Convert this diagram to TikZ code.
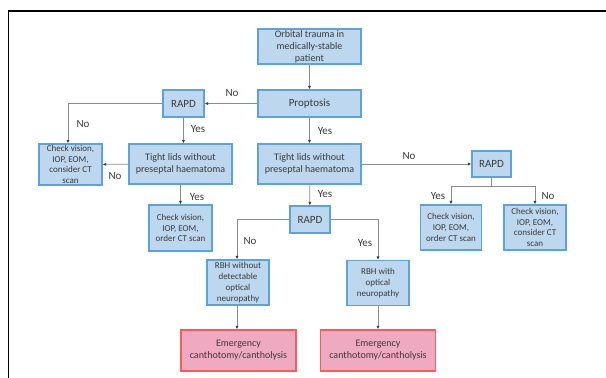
\documentclass[tikz,border=0pt]{standalone}
\usepackage{fontspec}
\setmainfont{Carlito}
\usetikzlibrary{arrows.meta}
\definecolor{boxfill}{HTML}{BDD7EE}
\definecolor{boxline}{HTML}{5BA3DD}
\definecolor{redfill}{HTML}{EFA9C0}
\definecolor{redline}{HTML}{FF5A5A}
\definecolor{txtgray}{HTML}{3A3A3A}
\definecolor{linegray}{HTML}{8C8C8C}
\tikzset{
  box/.style={draw=boxline, fill=boxfill, line width=1.1pt, align=center, inner sep=1pt, text=txtgray},
  redbox/.style={draw=redline, fill=redfill, line width=1.1pt, align=center, inner sep=1pt, text=txtgray,
    font=\fontsize{10}{12}\selectfont, minimum width=115pt, minimum height=41pt},
  bigtext/.style={font=\fontsize{11}{13}\selectfont},
  midtext/.style={font=\fontsize{10}{12}\selectfont},
  smalltext/.style={font=\fontsize{9}{10.8}\selectfont},
  lbl/.style={text=txtgray, font=\fontsize{11}{13}\selectfont, inner sep=0pt},
  link/.style={draw=linegray, line width=0.7pt, -{Latex[length=3.5pt,width=3pt,color=txtgray]}}
}
\begin{document}
\begin{tikzpicture}[x=1pt,y=-1pt]
\useasboundingbox (0,0) rectangle (606,378);
\draw [line width=1.6pt] (8.5,378) -- (8.5,11) -- (606,11);
% main column
\node [box, midtext, minimum width=103pt, minimum height=35pt] (trauma) at (309.5, 46.5) {Orbital trauma in\\medically-stable\\patient};
\node [box, bigtext, minimum width=103pt, minimum height=27pt] (prop) at (309.5, 103.5) {Proptosis};
\node [box, midtext, minimum width=103pt, minimum height=40pt] (tightc) at (309.5, 164) {Tight lids without\\preseptal haematoma};
\node [box, bigtext, minimum width=40pt, minimum height=27pt] (rapdm) at (310, 219.5) {RAPD};
\node [box, smalltext, minimum width=62pt, minimum height=45pt] (rbhno) at (238, 282.5) {RBH without\\detectable\\optical\\neuropathy};
\node [box, smalltext, minimum width=62pt, minimum height=45pt] (rbhyes) at (378, 283) {RBH with\\optical\\neuropathy};
\node [redbox] (emergl) at (238.5, 350.5) {Emergency\\canthotomy/cantholysis};
\node [redbox] (emergr) at (378, 350.5) {Emergency\\canthotomy/cantholysis};
% left branch
\node [box, bigtext, minimum width=41pt, minimum height=27pt] (rapdl) at (183.5, 103.5) {RAPD};
\node [box, midtext, minimum width=103pt, minimum height=40pt] (tightl) at (180.5, 164) {Tight lids without\\preseptal haematoma};
\node [box, smalltext, minimum width=63pt, minimum height=41pt] (checkl) at (70.5, 164.5) {Check vision,\\IOP, EOM,\\consider CT\\scan};
\node [box, smalltext, minimum width=63pt, minimum height=46pt] (checkm) at (180.5, 228) {Check vision,\\IOP, EOM,\\order CT scan};
% right branch
\node [box, bigtext, minimum width=39pt, minimum height=26pt] (rapdr) at (491.5, 164) {RAPD};
\node [box, smalltext, minimum width=61pt, minimum height=45pt] (checkra) at (451, 227.5) {Check vision,\\IOP, EOM,\\order CT scan};
\node [box, smalltext, minimum width=62pt, minimum height=45pt] (checkrb) at (535, 227.5) {Check vision,\\IOP, EOM,\\consider CT\\scan};
\coordinate (rsplit) at (491.5, 186);
% connectors
\draw [link] (trauma) -- (prop);
\draw [link] (prop) -- (tightc);
\draw [link] (tightc) -- (rapdm);
\draw [link] (prop) -- (rapdl);
\draw [link] (rapdl.west) -| ([xshift=-2.5pt]checkl.north);
\draw [link] (rapdl.south) -- (rapdl.south |- tightl.north);
\draw [link] (tightl) -- (checkl);
\draw [link] (tightl) -- (checkm);
\draw [link] (tightc) -- (rapdr);
\draw [link] (rapdm.west) -| ([xshift=-1pt]rbhno.north);
\draw [link] (rapdm.east) -| (rbhyes.north);
\draw [link] ([xshift=-1pt]rbhno.south) -- ([xshift=-1.5pt]emergl.north);
\draw [link] (rbhyes) -- (emergr);
\draw [linegray, line width=0.7pt] (rapdr) -- (rsplit);
\draw [link] (rsplit) -| (checkra.north);
\draw [link] (rsplit) -| (checkrb.north);
% labels
\node [lbl] (l1) at (232, 93) {No};
\node [lbl] (l2) at (83, 124) {No};
\node [lbl] (l3) at (198, 129) {Yes};
\node [lbl] (l4) at (115, 176) {No};
\node [lbl] (l5) at (325, 131) {Yes};
\node [lbl] (l6) at (409, 156) {No};
\node [lbl] (l7) at (197, 197) {Yes};
\node [lbl] (l8) at (325, 194) {Yes};
\node [lbl] (l9) at (250, 241) {No};
\node [lbl] (l10) at (365, 243) {Yes};
\node [lbl] (l11) at (438, 196) {Yes};
\node [lbl] (l12) at (548, 196) {No};
\end{tikzpicture}
\end{document}
